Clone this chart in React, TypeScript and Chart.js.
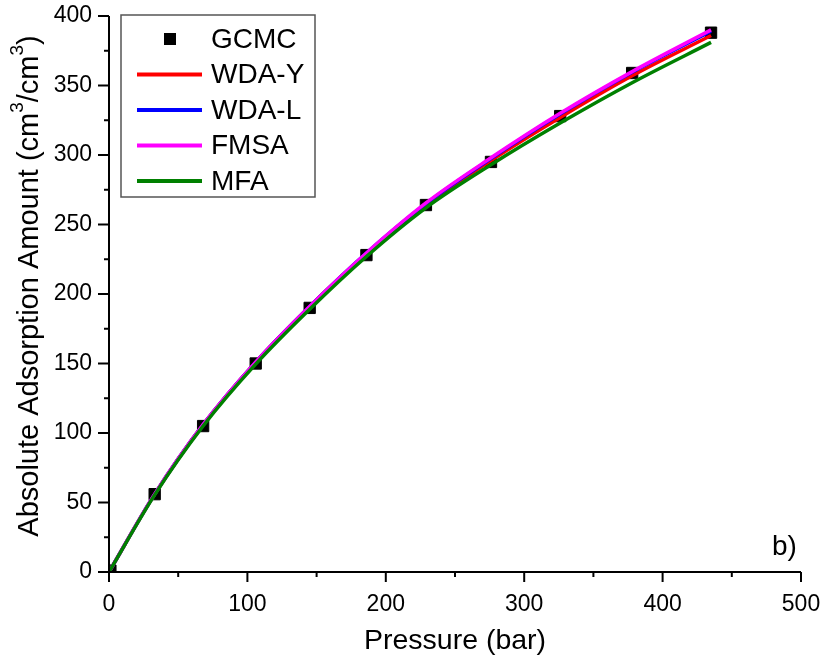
import React, { useEffect, useRef } from "react";
import { Chart, registerables } from "chart.js";

Chart.register(...registerables);

const FONT = "'Liberation Sans', Arial, sans-serif";

const pressureGCMC = [1, 33, 68, 106, 145, 186, 229, 276, 326, 378, 435];
const amountGCMC = [1, 56, 105, 150, 190, 228, 264, 295, 328, 359, 388];

const pressureModel = [0, 33, 68, 106, 145, 186, 229, 276, 326, 378, 435];
const wdaY = [0, 56, 106, 151, 191, 229, 264, 296, 327, 357, 386];
const wdaL = [0, 56, 106, 151, 191, 229.5, 265, 297.5, 329.5, 359.5, 389];
const fmsa = [0, 56, 106, 151, 191, 229.5, 265.5, 298, 330, 360, 390];
const mfa = [0, 55.5, 105, 149.5, 189, 227, 262, 293, 323, 352, 381];

const xTicks = [0, 100, 200, 300, 400, 500];
const yTicks = [0, 50, 100, 150, 200, 250, 300, 350, 400];

const legendItems = [
  { label: "GCMC", color: "#000000", marker: true },
  { label: "WDA-Y", color: "#ff0000", marker: false },
  { label: "WDA-L", color: "#0000ff", marker: false },
  { label: "FMSA", color: "#ff00ff", marker: false },
  { label: "MFA", color: "#008000", marker: false },
];

const yTitleParts: [string, boolean][] = [
  ["Absolute Adsorption Amount (cm", false],
  ["3", true],
  ["/cm", false],
  ["3", true],
  [")", false],
];

const toPts = (xs: number[], ys: number[]) => xs.map((x, i) => ({ x, y: ys[i] }));

const decorPlugin = {
  id: "decor",
  afterDraw(chart: any) {
    const ctx = chart.ctx;
    const xs = chart.scales.x;
    const ys = chart.scales.y;
    const area = chart.chartArea;
    ctx.save();
    ctx.strokeStyle = "#000";
    ctx.lineWidth = 2;
    ctx.beginPath();
    ctx.moveTo(area.left, area.top);
    ctx.lineTo(area.left, area.bottom);
    ctx.lineTo(area.right, area.bottom);
    ctx.stroke();
    for (let v = 0; v <= 500; v += 50) {
      const px = xs.getPixelForValue(v);
      const len = v % 100 === 0 ? 10 : 5;
      ctx.beginPath();
      ctx.moveTo(px, area.bottom);
      ctx.lineTo(px, area.bottom + len);
      ctx.stroke();
    }
    for (let v = 0; v <= 400; v += 25) {
      const py = ys.getPixelForValue(v);
      const len = v % 50 === 0 ? 11 : 5;
      ctx.beginPath();
      ctx.moveTo(area.left, py);
      ctx.lineTo(area.left - len, py);
      ctx.stroke();
    }
    // legend
    const bx = 121, by = 15, bw = 194, bh = 182;
    ctx.fillStyle = "#fff";
    ctx.fillRect(bx, by, bw, bh);
    ctx.strokeStyle = "#555";
    ctx.lineWidth = 1.5;
    ctx.strokeRect(bx, by, bw, bh);
    ctx.font = `28px ${FONT}`;
    ctx.textBaseline = "middle";
    ctx.textAlign = "left";
    legendItems.forEach((it, i) => {
      const cy = 39 + i * 35.5;
      if (it.marker) {
        ctx.fillStyle = it.color;
        ctx.fillRect(164, cy - 6, 12, 12);
      } else {
        ctx.strokeStyle = it.color;
        ctx.lineWidth = 4;
        ctx.beginPath();
        ctx.moveTo(137, cy);
        ctx.lineTo(202, cy);
        ctx.stroke();
      }
      ctx.fillStyle = "#000";
      ctx.fillText(it.label, 211, cy + 1);
    });
    // panel label
    ctx.font = `28px ${FONT}`;
    ctx.fillText("b)", 772, 547);
    // y title with superscripts
    const mainF = `29px ${FONT}`;
    const supF = `19px ${FONT}`;
    let total = 0;
    yTitleParts.forEach(([t, sup]) => {
      ctx.font = sup ? supF : mainF;
      total += ctx.measureText(t).width;
    });
    ctx.translate(38, 286);
    ctx.rotate(-Math.PI / 2);
    ctx.textAlign = "left";
    ctx.textBaseline = "alphabetic";
    let x = -total / 2;
    yTitleParts.forEach(([t, sup]) => {
      ctx.font = sup ? supF : mainF;
      ctx.fillText(t, x, sup ? -15 : 0);
      x += ctx.measureText(t).width;
    });
    ctx.restore();
  },
};

export default function App() {
  const ref = useRef<HTMLCanvasElement | null>(null);
  useEffect(() => {
    if (!ref.current) return;
    const lineDs = (label: string, data: number[], color: string, order: number) => ({
      type: "line" as const,
      label,
      data: toPts(pressureModel, data),
      borderColor: color,
      backgroundColor: color,
      borderWidth: 3.5,
      pointRadius: 0,
      cubicInterpolationMode: "monotone" as const,
      order,
    });
    const chart = new Chart(ref.current, {
      type: "scatter",
      data: {
        datasets: [
          {
            type: "scatter",
            label: "GCMC",
            data: toPts(pressureGCMC, amountGCMC),
            pointStyle: "rect",
            pointRadius: 8,
            pointBorderWidth: 1,
            backgroundColor: "#000",
            borderColor: "#000",
            order: 5,
          } as any,
          lineDs("WDA-Y", wdaY, "#ff0000", 4),
          lineDs("WDA-L", wdaL, "#0000ff", 3),
          lineDs("FMSA", fmsa, "#ff00ff", 2),
          lineDs("MFA", mfa, "#008000", 1),
        ],
      },
      options: {
        animation: false,
        responsive: false,
        maintainAspectRatio: false,
        layout: { padding: { left: 0, top: 16, right: 26, bottom: 0 } },
        plugins: { legend: { display: false }, tooltip: { enabled: false } },
        scales: {
          x: {
            type: "linear",
            min: 0,
            max: 500,
            border: { display: false },
            grid: { display: false, drawTicks: false },
            afterBuildTicks: (s: any) => {
              s.ticks = xTicks.map((v) => ({ value: v }));
            },
            afterFit: (s: any) => {
              s.height = 95;
              s.paddingLeft = 0;
              s.paddingRight = 0;
            },
            ticks: {
              padding: 19,
              color: "#000",
              font: { family: FONT, size: 23 },
              maxRotation: 0,
            },
            title: {
              display: true,
              text: "Pressure (bar)",
              color: "#000",
              font: { family: FONT, size: 28.5 },
              padding: { top: 0, bottom: 9 },
            },
          },
          y: {
            type: "linear",
            min: 0,
            max: 400,
            border: { display: false },
            grid: { display: false, drawTicks: false },
            afterBuildTicks: (s: any) => {
              s.ticks = yTicks.map((v) => ({ value: v }));
            },
            afterFit: (s: any) => {
              s.width = 109;
              s.paddingTop = 0;
              s.paddingBottom = 0;
            },
            ticks: {
              padding: 17,
              color: "#000",
              font: { family: FONT, size: 23 },
            },
            title: { display: false },
          },
        },
      },
      plugins: [decorPlugin],
    });
    return () => chart.destroy();
  }, []);
  return (
    <div style={{ position: "fixed", left: 0, top: 0, width: 827, height: 667, background: "#fff" }}>
      <canvas ref={ref} width={827} height={667} style={{ width: 827, height: 667 }} />
    </div>
  );
}
